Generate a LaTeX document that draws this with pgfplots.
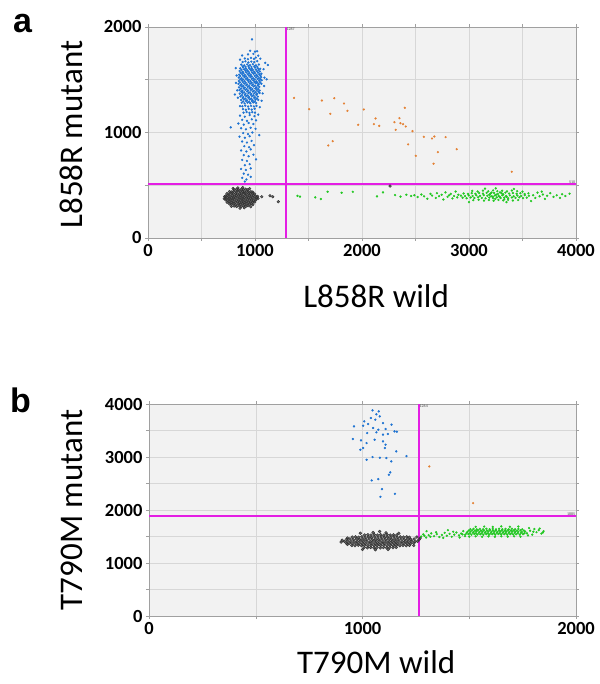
\documentclass[border=0pt]{standalone}
\usepackage{pgfplots}
\pgfplotsset{compat=1.18}
\usepackage{fontspec}
\setmainfont{Carlito}
\newfontfamily\panelfont{Liberation Sans}

\definecolor{ddgray}{RGB}{50,50,50}
\definecolor{ddblue}{RGB}{30,115,210}
\definecolor{ddgreen}{RGB}{35,200,35}
\definecolor{ddorange}{RGB}{228,128,50}
\definecolor{thrmag}{RGB}{228,30,228}
\definecolor{bgfill}{RGB}{242,242,242}
\definecolor{gridgray}{RGB}{215,215,215}
\definecolor{framegray}{RGB}{160,160,160}

\pgfplotsset{
  ddpcr/.style={
    scale only axis, enlargelimits=false, clip=true,
    axis background/.style={fill=bgfill},
    axis line style={draw=framegray, line width=0.6bp},
    grid=both, grid style={draw=gridgray, line width=0.5bp},
    tick align=outside, major tick length=3bp, minor tick length=3bp,
    tick style={draw=framegray, line width=0.5bp},
    ticklabel style={font=\fontsize{18.5bp}{18.5bp}\selectfont\bfseries},
    /pgf/number format/assume math mode=true,
    /pgf/number format/1000 sep={},
    scaled ticks=false,
    label style={font=\fontsize{33bp}{33bp}\selectfont},
  },
  drop/.style={only marks, mark=*, mark size=1bp, mark options={draw=none}},
  grayblob/.style={only marks, mark=*, mark options={draw=none, fill opacity=0.72}},
  thr/.style={thrmag, line width=1.6bp, no marks},
}
\tikzset{thrlabel/.style={font=\fontsize{4bp}{4bp}\selectfont, inner sep=0.6bp, text=black!70}}

\begin{document}
\begin{tikzpicture}
\path[use as bounding box] (0bp,0bp) rectangle (600bp,684bp);

%% panel a
\begin{axis}[ddpcr,
    at={(148bp,446bp)}, anchor=south west,
    width=428bp, height=211bp,
    xmin=0, xmax=4000, ymin=0, ymax=2000,
    xtick={0,1000,2000,3000,4000}, minor xtick={500,1500,2500,3500},
    ytick={0,1000,2000}, minor ytick={500,1500},
    xlabel={L858R wild}, ylabel={L858R mutant},
    xlabel style={at={(axis description cs:0.533,-0.275)}, anchor=center},
    ylabel style={at={(axis description cs:-0.178,0.49)}, anchor=center, rotate=0},
]
%% double negative
\addplot[grayblob, mark size=1.35bp, color=ddgray] coordinates {
(805,303)(828,298)(850,305)(872,299)(893,304)(915,300)(935,306)
(762,322)(781,318)(802,324)(821,317)(843,322)(862,319)(884,325)(905,318)(924,323)(946,319)(966,324)(980,317)
(740,338)(758,343)(777,337)(797,342)(818,339)(838,344)(857,338)(878,341)(898,337)(917,343)(938,339)(958,342)(979,338)(998,341)
(727,361)(745,357)(766,362)(786,358)(805,363)(826,357)(846,361)(866,358)(887,362)(906,357)(927,363)(947,359)(968,361)(988,356)(1008,362)
(722,378)(741,383)(760,377)(781,382)(800,379)(821,384)(840,378)(861,381)(880,377)(901,383)(920,379)(941,382)(960,376)(981,383)(1000,379)(1018,381)
(726,399)(746,403)(765,398)(786,402)(806,397)(825,403)(846,399)(866,401)(885,397)(905,404)(925,398)(946,402)(965,399)(986,403)(1006,398)
(738,421)(757,418)(778,423)(797,419)(818,422)(837,417)(858,421)(878,419)(898,424)(918,418)(938,422)(958,419)(978,423)(997,418)
(762,441)(782,437)(801,442)(822,438)(842,443)(862,439)(882,441)(902,437)(922,443)(942,438)(962,440)(978,436)
(803,458)(826,462)(848,457)(870,461)(891,459)(913,463)(934,458)
(712,372)(716,392)(1028,374)(1025,395)(860,282)(900,287)(840,476)(885,478)(795,470)(950,468)(780,300)(960,296)
(1063,391)(1140,401)(1165,391)(1218,344)(2262,492)
};
%% mutant positive
\addplot[drop, mark size=0.95bp, color=ddblue] coordinates {
(905,1702)(934,1695)(962,1707)(990,1698)(1008,1710)
(884,1668)(911,1675)(938,1664)(966,1672)(993,1667)(1021,1676)
(872,1643)(899,1636)(927,1645)(953,1638)(981,1647)(1009,1637)(1036,1644)
(862,1608)(889,1615)(916,1606)(944,1613)(971,1604)(998,1616)(1026,1609)(1049,1604)
(857,1583)(884,1576)(911,1585)(938,1578)(965,1586)(992,1575)(1019,1582)(1046,1578)
(852,1548)(879,1554)(906,1545)(933,1553)(960,1547)(987,1556)(1014,1546)(1041,1552)(1060,1557)
(848,1521)(875,1515)(902,1524)(929,1517)(956,1526)(983,1514)(1010,1522)(1037,1516)(1058,1524)
(850,1488)(877,1494)(904,1486)(931,1495)(958,1487)(985,1493)(1012,1485)(1039,1491)(1062,1496)
(846,1461)(873,1456)(900,1464)(927,1455)(954,1463)(981,1457)(1008,1466)(1035,1458)(1059,1462)
(851,1428)(878,1435)(905,1426)(932,1433)(959,1424)(986,1436)(1013,1427)(1040,1432)
(855,1402)(882,1396)(909,1405)(936,1397)(963,1404)(990,1395)(1017,1403)(1044,1398)
(858,1368)(885,1374)(912,1366)(939,1373)(966,1365)(993,1372)(1020,1367)(1043,1375)
(864,1342)(891,1336)(918,1344)(945,1337)(972,1345)(999,1335)(1026,1341)
(870,1308)(897,1314)(924,1306)(951,1313)(978,1305)(1005,1312)(1030,1309)
(876,1282)(903,1276)(930,1284)(957,1277)(984,1285)(1011,1279)
(882,1248)(909,1254)(936,1246)(963,1253)(990,1247)(1014,1252)
(888,1222)(915,1216)(942,1224)(969,1217)(996,1225)
(893,1188)(921,1194)(948,1186)(975,1193)(1000,1189)
(885,1626)(912,1622)(940,1629)(967,1621)(994,1628)(1021,1623)
(873,1594)(900,1598)(927,1591)(954,1599)(981,1592)(1008,1597)(1035,1593)
(866,1566)(893,1562)(920,1569)(947,1561)(974,1568)(1001,1563)(1028,1567)
(862,1534)(889,1538)(916,1531)(943,1539)(970,1532)(997,1537)(1024,1533)(1050,1538)
(862,1506)(889,1502)(916,1509)(943,1501)(970,1508)(997,1503)(1024,1507)(1050,1504)
(860,1474)(887,1478)(914,1471)(941,1479)(968,1472)(995,1477)(1022,1473)(1048,1476)
(864,1446)(891,1442)(918,1449)(945,1441)(972,1448)(999,1443)(1026,1447)
(868,1414)(895,1418)(922,1411)(949,1419)(976,1412)(1003,1417)(1030,1413)
(872,1386)(899,1382)(926,1389)(953,1381)(980,1388)(1007,1383)(1032,1387)
(878,1354)(905,1358)(932,1351)(959,1359)(986,1352)(1013,1357)
(884,1326)(911,1322)(938,1329)(965,1321)(992,1328)(1018,1323)
(890,1294)(917,1298)(944,1291)(971,1299)(998,1292)
(820,1610)(828,1540)(822,1470)(834,1400)(840,1330)(1080,1600)(1088,1520)(1085,1440)
(1072,1370)(1062,1300)(1095,1660)(1050,1700)(860,1690)(880,1730)(935,1740)(985,1745)
(1030,1728)(1020,1770)(955,1775)(1000,1766)(972,1883)(1109,1504)(1120,1640)(812,1360)
(1045,1240)(860,1250)
(860,1160)(905,1150)(950,1165)(995,1155)(1030,1170)(880,1120)(925,1110)(970,1125)
(1010,1115)(845,1085)(895,1075)(940,1090)(985,1080)(773,1049)(870,1040)(915,1030)
(960,1045)(1005,1035)(890,995)(935,985)(975,1000)(855,960)(905,950)(950,965)(1040,975)
(880,915)(925,905)(968,920)(900,870)(945,860)(990,880)(870,830)(920,820)(960,840)
(895,785)(940,775)(985,790)(880,740)(925,730)(1010,745)(905,690)(950,700)(870,655)
(915,645)(960,660)(895,610)(935,600)(880,570)(920,555)(960,580)(905,535)
};
%% wild-type positive
\addplot[drop, mark size=0.95bp, color=ddgreen] coordinates {
(1397,400)(1420,392)(1563,385)(1616,369)(1679,438)(1810,429)(1914,438)(2140,394)
(2196,432)(2309,407)(2360,392)(2415,410)(2460,398)(2490,405)(2520,388)(2555,412)
(2580,395)(2610,372)(2640,418)(2655,402)(2690,380)(2700,425)(2720,396)(2745,410)
(2760,365)(2780,432)(2800,390)(2815,405)(2830,418)(2845,375)(2860,398)(2875,440)
(2890,385)(2900,410)
(3600,405)(3620,380)(3640,430)(3660,395)(3690,412)(3710,370)(3730,400)(3760,425)
(3790,390)(3820,405)(3850,380)(3870,415)(3900,398)(3940,420)(3680,440)(3580,350)
(2950,422)(2990,418)(3025,425)(3060,419)(3095,427)(3130,421)(3165,428)(3200,420)
(3235,426)(3270,418)(3305,424)(3340,430)(3375,421)(3410,427)(3445,419)(3480,425)
(3520,417)(3555,423)
(2925,401)(2962,397)(2998,404)(3033,398)(3068,405)(3103,399)(3138,406)(3172,400)
(3207,395)(3242,403)(3277,398)(3312,405)(3347,399)(3382,404)(3417,396)(3452,402)
(3487,398)(3522,406)(3560,400)
(2940,382)(2978,377)(3015,384)(3050,379)(3085,386)(3120,380)(3155,376)(3190,383)
(3225,378)(3260,385)(3295,379)(3330,383)(3365,377)(3400,384)(3435,380)(3470,386)
(3505,378)(3540,382)
(3030,446)(3080,441)(3130,449)(3180,443)(3225,451)(3265,444)(3310,448)(3355,442)
(3400,450)(3450,444)(3500,440)
(3040,358)(3090,362)(3140,355)(3185,360)(3230,353)(3275,361)(3320,357)(3365,362)
(3410,355)(3460,360)
(3190,410)(3222,392)(3255,412)(3288,390)(3320,414)(3352,391)(3210,430)(3290,432)
(3245,370)(3330,368)(3250,470)(3150,468)(3350,340)(3000,340)(3420,465)
};
%% double positive
\addplot[drop, mark size=0.9bp, color=ddorange] coordinates {
(1365,1328)(1506,1221)(1625,1303)(1741,1325)(1704,1177)(1685,877)(1726,918)(1832,1275)
(1864,1205)(1964,1073)(2017,1218)(2111,1079)(2127,1133)(2161,1063)(2303,1098)(2315,1025)
(2350,1136)(2359,1088)(2384,1079)(2400,1234)(2409,1057)(2431,887)(2472,1013)(2503,779)
(2578,959)(2654,943)(2676,962)(2669,704)(2709,814)(2781,956)(2885,842)(3400,628)
};
%% thresholds
\addplot[thr] coordinates {(1287,0)(1287,2000)};
\addplot[thr] coordinates {(0,510)(4000,510)};
\node[thrlabel, anchor=north west] at (axis cs:1287,2000) {1287};
\node[thrlabel, anchor=south east] at (axis cs:4000,510) {510};
\end{axis}

%% panel b
\begin{axis}[ddpcr,
    at={(149bp,68bp)}, anchor=south west,
    width=427bp, height=212bp,
    xmin=0, xmax=2000, ymin=0, ymax=4000,
    xtick={0,1000,2000}, minor xtick={500,1500},
    ytick={0,1000,2000,3000,4000}, minor ytick={500,1500,2500,3500},
    xlabel={T790M wild}, ylabel={T790M mutant},
    xlabel style={at={(axis description cs:0.532,-0.217)}, anchor=center},
    ylabel style={at={(axis description cs:-0.18,0.5)}, anchor=center, rotate=0},
]
%% double negative
\addplot[grayblob, mark size=1.45bp, color=ddgray] coordinates {
(1008,1292)(1023,1286)(1038,1294)(1053,1288)(1068,1295)(1083,1285)(1098,1291)(1113,1287)(1128,1294)(1143,1289)(1158,1293)
(950,1331)(965,1326)(980,1335)(995,1328)(1010,1334)(1025,1325)(1040,1332)(1055,1327)(1070,1336)(1085,1329)
(1100,1334)(1115,1326)(1130,1333)(1145,1328)(1160,1335)(1175,1327)(1190,1332)(1205,1326)(1220,1334)
(925,1369)(940,1374)(955,1366)(970,1372)(985,1365)(1000,1373)(1015,1367)(1030,1375)(1045,1366)(1060,1371)(1075,1364)
(1090,1373)(1105,1368)(1120,1374)(1135,1365)(1150,1372)(1165,1367)(1180,1374)(1195,1366)(1210,1371)(1225,1365)(1240,1373)
(916,1408)(931,1413)(946,1405)(961,1412)(976,1404)(991,1414)(1006,1406)(1021,1411)(1036,1403)(1051,1413)(1066,1407)(1081,1414)
(1096,1405)(1111,1412)(1126,1404)(1141,1411)(1156,1406)(1171,1413)(1186,1404)(1201,1410)(1216,1406)(1231,1413)(1246,1405)(1258,1410)
(926,1449)(941,1454)(956,1446)(971,1453)(986,1445)(1001,1452)(1016,1447)(1031,1455)(1046,1446)(1061,1451)(1076,1444)
(1091,1453)(1106,1448)(1121,1454)(1136,1445)(1151,1452)(1166,1447)(1181,1453)(1196,1446)(1211,1451)(1226,1445)(1242,1452)
(952,1488)(967,1493)(982,1486)(997,1494)(1012,1487)(1027,1492)(1042,1485)(1057,1494)(1072,1488)(1087,1493)
(1102,1486)(1117,1491)(1132,1487)(1147,1494)(1162,1485)(1177,1492)(1192,1488)(1207,1493)(1220,1486)
(1010,1528)(1025,1533)(1040,1526)(1055,1534)(1070,1527)(1085,1532)(1100,1525)(1115,1533)(1130,1528)(1145,1532)(1160,1527)
(990,1560)(1050,1575)(1110,1570)(1170,1560)(1060,1250)(1120,1255)(1000,1255)(900,1395)(905,1430)
(1265,1440)(1270,1470)(1255,1490)(930,1470)(1240,1330)(1080,1594)(930,1350)
};
%% mutant positive
\addplot[drop, mark size=0.95bp, color=ddblue] coordinates {
(1047,3881)(1076,3862)(1065,3805)(1039,3736)(1081,3767)(1008,3673)(1060,3704)(1026,3622)
(1096,3641)(1136,3610)(960,3578)(1003,3591)(1050,3547)(1074,3515)(1108,3528)(1150,3484)
(1161,3478)(1022,3452)(1065,3465)(1096,3421)(1119,3434)(955,3339)(993,3314)(1019,3263)
(1057,3326)(1096,3295)(1108,3232)(1105,3169)(1158,3106)(990,3137)(1003,3169)(1206,3018)
(1019,2948)(1047,2999)(1081,2986)(1112,2980)(1135,2917)(1130,2709)(1124,2665)(1043,2558)
(1074,2583)(1091,2394)(1152,2306)(1084,2249)
};
%% wild-type positive
\addplot[drop, mark size=0.95bp, color=ddgreen] coordinates {
(1275,1500)(1285,1540)(1298,1480)(1310,1525)(1322,1560)(1335,1505)(1348,1545)(1360,1490)
(1372,1530)(1385,1570)(1395,1515)(1408,1550)(1418,1495)(1430,1535)(1440,1575)(1452,1520)
(1462,1555)(1472,1600)(1480,1505)(1290,1515)(1318,1495)(1345,1580)(1378,1475)(1425,1590)
(1455,1480)(1468,1540)(1400,1620)(1300,1600)
(1482,1538)(1496,1544)(1510,1535)(1524,1546)(1538,1537)(1552,1543)(1566,1534)(1580,1545)
(1594,1538)(1608,1544)(1622,1536)(1636,1547)(1650,1539)(1664,1543)(1678,1535)(1692,1546)
(1706,1538)(1720,1542)(1736,1536)(1752,1545)
(1488,1566)(1503,1562)(1517,1569)(1531,1561)(1545,1568)(1559,1563)(1573,1570)(1587,1562)
(1601,1567)(1615,1561)(1629,1569)(1643,1564)(1657,1570)(1671,1562)(1685,1567)(1699,1561)
(1713,1568)(1727,1563)(1742,1567)(1758,1562)
(1492,1588)(1506,1594)(1520,1585)(1534,1596)(1548,1587)(1562,1593)(1576,1584)(1590,1595)
(1604,1588)(1618,1593)(1632,1585)(1646,1596)(1660,1587)(1674,1594)(1688,1586)(1702,1595)
(1716,1589)(1730,1592)(1746,1585)(1762,1594)
(1498,1614)(1513,1618)(1527,1611)(1541,1619)(1555,1612)(1569,1617)(1583,1610)(1597,1619)
(1611,1613)(1625,1618)(1639,1611)(1653,1617)(1667,1612)(1681,1619)(1695,1613)(1709,1618)
(1723,1611)(1740,1616)(1756,1613)
(1505,1638)(1520,1645)(1535,1636)(1550,1643)(1565,1635)(1580,1646)(1595,1637)(1610,1644)
(1625,1636)(1640,1645)(1655,1638)(1670,1643)(1685,1635)(1700,1646)(1715,1637)(1730,1642)
(1748,1636)
(1500,1498)(1530,1503)(1560,1495)(1590,1502)(1620,1494)(1650,1504)(1680,1497)(1710,1503)
(1740,1496)(1530,1682)(1570,1688)(1610,1680)(1650,1690)(1690,1683)(1730,1687)
(1770,1560)(1785,1610)(1795,1535)(1805,1640)(1815,1580)(1825,1620)(1838,1555)(1848,1600)
(1780,1660)(1800,1590)(1830,1650)(1845,1575)(1775,1520)
};
%% double positive
\addplot[drop, mark size=0.9bp, color=ddorange] coordinates {(1313,2822)(1518,2129)};
%% thresholds
\addplot[thr] coordinates {(1264,0)(1264,4000)};
\addplot[thr] coordinates {(0,1885)(2000,1885)};
\node[thrlabel, anchor=north west] at (axis cs:1264,4000) {1264};
\node[thrlabel, anchor=south east] at (axis cs:2000,1885) {1885};
\end{axis}

\node[anchor=base west, font=\panelfont\bfseries\fontsize{34bp}{34bp}\selectfont, inner sep=0pt] at (13bp,651bp) {a};
\node[anchor=base west, font=\panelfont\bfseries\fontsize{34bp}{34bp}\selectfont, inner sep=0pt] at (10bp,271bp) {b};
\end{tikzpicture}
\end{document}
